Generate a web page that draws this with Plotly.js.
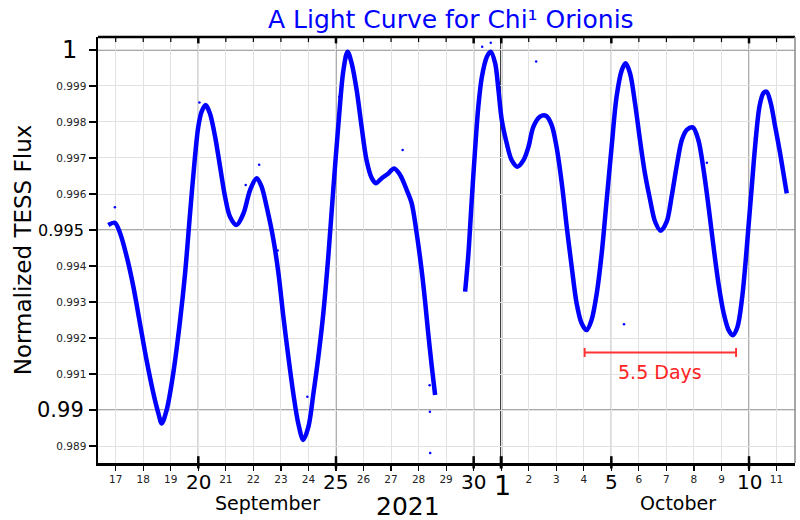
<!DOCTYPE html>
<html><head><meta charset="utf-8">
<script src="https://cdn.plot.ly/plotly-3.0.1.min.js"></script>
<style>html,body{margin:0;padding:0;background:#fff}#chart{width:800px;height:520px}</style>
</head><body><div id="chart"></div>
<script>
// Day numbers counted from 1 September 2021 (Oct 1 = 31)
const sepDays = [16.73,16.97,17.16,17.40,17.64,17.88,18.12,18.37,18.55,18.67,18.85,19.09,19.34,19.52,19.70,19.88,20.00,20.12,20.27,20.42,20.61,20.79,20.97,21.15,21.39,21.64,21.88,22.12,22.30,22.48,22.73,22.91,23.09,23.27,23.45,23.63,23.81,24.00,24.18,24.36,24.54,24.72,24.90,25.09,25.27,25.42,25.57,25.75,25.93,26.11,26.30,26.45,26.66,26.90,27.11,27.33,27.57,27.75,27.93,28.11,28.23,28.35,28.48,28.60];
const sepFlux = [0.99514,0.99520,0.99491,0.99426,0.99343,0.99241,0.99139,0.99046,0.98991,0.98963,0.99000,0.99102,0.99250,0.99380,0.99546,0.99704,0.99787,0.99829,0.99847,0.99824,0.99759,0.99676,0.99593,0.99537,0.99514,0.99546,0.99611,0.99644,0.99620,0.99565,0.99472,0.99380,0.99259,0.99148,0.99046,0.98963,0.98917,0.98954,0.99046,0.99148,0.99269,0.99426,0.99611,0.99796,0.99944,0.99995,0.99963,0.99889,0.99787,0.99694,0.99644,0.99630,0.99644,0.99657,0.99671,0.99653,0.99611,0.99574,0.99491,0.99389,0.99306,0.99213,0.99120,0.99042];
const octDays = [29.69,29.81,29.93,30.05,30.17,30.30,30.48,30.62,30.78,30.90,31.02,31.20,31.38,31.59,31.81,31.99,32.17,32.41,32.63,32.83,33.01,33.20,33.38,33.56,33.74,33.92,34.10,34.28,34.47,34.65,34.83,35.01,35.19,35.38,35.52,35.68,35.86,36.04,36.22,36.41,36.59,36.79,37.01,37.19,37.37,37.56,37.74,37.96,38.16,38.35,38.53,38.71,38.89,39.08,39.26,39.41,39.58,39.74,39.86,39.98,40.10,40.22,40.38,40.52,40.64,40.79,40.95,41.13,41.25,41.37];
const octFlux = [0.99329,0.99435,0.99583,0.99722,0.99843,0.99926,0.99981,0.99995,0.99963,0.99889,0.99806,0.99741,0.99694,0.99676,0.99694,0.99731,0.99787,0.99815,0.99817,0.99792,0.99731,0.99630,0.99509,0.99398,0.99296,0.99241,0.99222,0.99250,0.99324,0.99435,0.99583,0.99731,0.99870,0.99944,0.99963,0.99935,0.99852,0.99750,0.99657,0.99583,0.99523,0.99498,0.99523,0.99593,0.99676,0.99750,0.99778,0.99785,0.99750,0.99667,0.99565,0.99454,0.99352,0.99269,0.99222,0.99208,0.99231,0.99306,0.99398,0.99509,0.99620,0.99731,0.99843,0.99880,0.99884,0.99852,0.99787,0.99713,0.99657,0.99602];
const strayDays = [16.97,20.04,21.72,22.21,22.88,23.13,23.96,25.12,27.42,28.40,28.41,28.42,30.31,30.62,32.27,35.46,37.43,38.47,40.22];
const strayFlux = [0.99563,0.99854,0.99625,0.99681,0.99443,0.99238,0.99037,0.99870,0.99722,0.99069,0.98995,0.98881,1.00009,1.00020,0.99968,0.99238,0.99708,0.99687,0.99755];

const minorDayTicks = [17,18,19,21,22,23,24,26,27,28,29,32,33,34,36,37,38,39,41];
const minorDayLabels = ['17','18','19','21','22','23','24','26','27','28','29','2','3','4','6','7','8','9','11'];
const majorDayTicks = [20,25,30,31,35,40];
const majorDayLabels = ['20','25','30','1','5','10'];
const minorFluxTicks = [0.989,0.991,0.992,0.993,0.994,0.996,0.997,0.998,0.999];
const minorFluxLabels = ['0.989','0.991','0.992','0.993','0.994','0.996','0.997','0.998','0.999'];
const majorFluxTicks = [0.99,0.995,1.0];
const majorFluxLabels = ['0.99','0.995','1'];
const monthNames = ['September','October'];
const monthCenters = [22.53,37.42];
const yearLabel = '2021';
const yearCenter = 27.61;
const spanStart = 34.03, spanEnd = 39.53, spanLevel = 0.99160;
const spanLabel = '5.5 Days';

const F = 'DejaVu Sans, sans-serif';
const xs = sepDays.concat([null], octDays);
const ys = sepFlux.concat([null], octFlux);

const traces = [
  {x: xs, y: ys, type: 'scatter', mode: 'lines', connectgaps: false,
   line: {color: '#0000ff', width: 4.5, shape: 'spline', smoothing: 0.9}, hoverinfo: 'skip'},
  {x: strayDays, y: strayFlux, type: 'scatter', mode: 'markers',
   marker: {color: '#0000ff', size: 2.5}, hoverinfo: 'skip'}
];

const allDays = minorDayTicks.concat(majorDayTicks).sort((a,b)=>a-b);
const allDayText = allDays.map(d => { const i = minorDayTicks.indexOf(d); return i >= 0 ? minorDayLabels[i] : ''; });
const allFlux = minorFluxTicks.concat(majorFluxTicks).sort((a,b)=>a-b);
const allFluxText = allFlux.map(v => { const i = minorFluxTicks.indexOf(v); return i >= 0 ? minorFluxLabels[i] : ''; });

const shapes = [];
majorDayTicks.forEach(d => {
  const isOct1 = d === 31;
  shapes.push({type:'line', layer:'between', xref:'x', yref:'paper', x0:d, x1:d, y0:0, y1:1,
    line:{color: isOct1 ? '#111' : '#777', width: isOct1 ? 2 : 1.2}});
  shapes.push({type:'line', layer:'above', xref:'x', yref:'paper', x0:d, x1:d, y0:-0.013, y1:0.016,
    line:{color:'#000', width: isOct1 ? 3 : 2.5}});
  shapes.push({type:'line', layer:'above', xref:'x', yref:'paper', x0:d, x1:d, y0:1, y1:0.985,
    line:{color:'#000', width: 2.5}});
});
minorDayTicks.forEach(d => {
  shapes.push({type:'line', layer:'above', xref:'x', yref:'paper', x0:d, x1:d, y0:1, y1:0.988,
    line:{color:'#000', width: 1.2}});
});
majorFluxTicks.forEach(v => {
  shapes.push({type:'line', layer:'between', xref:'paper', yref:'y', x0:0, x1:1, y0:v, y1:v,
    line:{color:'#555', width:1.2}});
});
// top and right frame
shapes.push({type:'line', layer:'above', xref:'paper', yref:'paper', x0:0, x1:1, y0:1, y1:1, line:{color:'#000', width:2.5}});
shapes.push({type:'line', layer:'above', xref:'paper', yref:'paper', x0:1, x1:1, y0:0, y1:1, line:{color:'#888', width:1.5}});
// 5.5 day span
shapes.push({type:'line', layer:'above', xref:'x', yref:'y', x0:spanStart, x1:spanEnd, y0:spanLevel, y1:spanLevel, line:{color:'#ff3333', width:2}});
[spanStart, spanEnd].forEach(d => shapes.push({type:'line', layer:'above', xref:'x', yref:'y', x0:d, x1:d,
  y0:spanLevel-0.000125, y1:spanLevel+0.000125, line:{color:'#ff3333', width:2}}));

const annotations = [];
majorDayTicks.forEach((d,i) => {
  const big = majorDayLabels[i] === '1';
  annotations.push({xref:'x', yref:'paper', x:d + (big ? 0.06 : 0), y: big ? -0.052 : -0.044, text: majorDayLabels[i],
    showarrow:false, xanchor:'center', yanchor:'middle', font:{family:F, size: big ? 27 : 20, color:'#000'}});
});
monthNames.forEach((m,i) => annotations.push({xref:'x', yref:'paper', x:monthCenters[i], y:-0.094, text:m,
  showarrow:false, xanchor:'center', yanchor:'middle', font:{family:F, size:19, color:'#000'}}));
annotations.push({xref:'x', yref:'paper', x:yearCenter, y:-0.103, text:yearLabel, showarrow:false,
  xanchor:'center', yanchor:'middle', font:{family:F, size:25, color:'#000'}});
const fluxSizes = {'1':24, '0.995':16, '0.99':21};
majorFluxTicks.forEach((v,i) => {
  const t = majorFluxLabels[i];
  annotations.push({xref:'paper', yref:'y', x: t === '1' ? -0.027 : -0.017, y:v, text:t, showarrow:false,
    xanchor:'right', yanchor:'middle', font:{family:F, size:fluxSizes[t], color:'#000'}});
});
annotations.push({xref:'x', yref:'y', x:(spanStart+spanEnd)/2 - 0.02, y:spanLevel - 0.00055, text:spanLabel, showarrow:false,
  xanchor:'center', yanchor:'middle', font:{family:F, size:19, color:'#ff2222'}});

const layout = {
  width: 800, height: 520,
  margin: {l: 98, r: 5, t: 37, b: 57},
  paper_bgcolor: '#fff', plot_bgcolor: '#fff',
  showlegend: false,
  font: {family: F, color: '#000'},
  title: {text: 'A Light Curve for Chi¹ Orionis', font: {family: F, size: 25, color: '#0000ff'},
          x: 0.5635, xanchor: 'center', y: 0.963, yanchor: 'middle'},
  xaxis: {range: [16.357, 41.67], tickmode: 'array', tickvals: allDays, ticktext: allDayText,
          ticks: 'outside', ticklen: 5, tickwidth: 1.2, tickcolor: '#000',
          tickfont: {family: F, size: 10.5, color: '#222'},
          showgrid: true, gridcolor: '#e2e2e2', gridwidth: 1,
          showline: true, linecolor: '#000', linewidth: 2.5, zeroline: false, fixedrange: true},
  yaxis: {range: [0.98853, 1.00036], tickmode: 'array', tickvals: allFlux, ticktext: allFluxText,
          ticks: 'outside', ticklen: 7, tickwidth: 1.5, tickcolor: '#000',
          tickfont: {family: F, size: 10.5, color: '#222'},
          showgrid: true, gridcolor: '#e2e2e2', gridwidth: 1,
          showline: true, linecolor: '#000', linewidth: 2.5, zeroline: false, fixedrange: true,
          title: {text: 'Normalized TESS Flux', font: {family: F, size: 23, color: '#000'}, standoff: 19}},
  shapes: shapes,
  annotations: annotations
};
Plotly.newPlot('chart', traces, layout, {displayModeBar: false, staticPlot: true});
</script></body></html>
